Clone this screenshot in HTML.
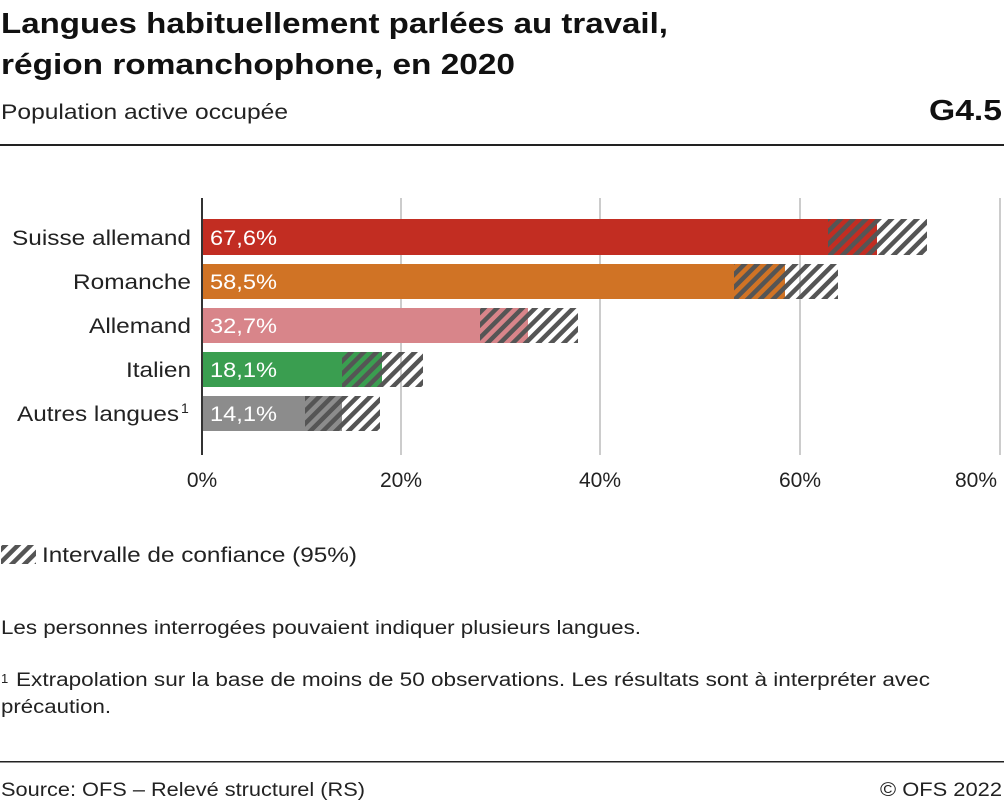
<!DOCTYPE html>
<html><head><meta charset="utf-8"><style>
body{margin:0;width:1004px;height:803px;background:#fff;font-family:"Liberation Sans",sans-serif;color:#222;overflow:hidden}
</style></head><body>
<svg width="1004" height="803" xmlns="http://www.w3.org/2000/svg" font-family="Liberation Sans, sans-serif">
<defs>
<pattern id="h" patternUnits="userSpaceOnUse" width="9" height="9" patternTransform="rotate(45)">
<rect x="0" y="0" width="4.5" height="9" fill="#555"/>
</pattern>
</defs>
<g lengthAdjust="spacingAndGlyphs">
<text x="1" y="33" font-size="29" font-weight="bold" fill="#111" textLength="667" lengthAdjust="spacingAndGlyphs">Langues habituellement parlées au travail,</text>
<text x="1" y="74" font-size="29" font-weight="bold" fill="#111" textLength="514" lengthAdjust="spacingAndGlyphs">région romanchophone, en 2020</text>
<text x="1" y="119" font-size="21" fill="#222" textLength="287" lengthAdjust="spacingAndGlyphs">Population active occupée</text>
<text x="929" y="120" font-size="29" font-weight="bold" fill="#111" textLength="73" lengthAdjust="spacingAndGlyphs">G4.5</text>
</g>
<rect x="0" y="144" width="1004" height="2" fill="#222"/>
<g stroke="#ccc" stroke-width="2">
<line x1="401" y1="198" x2="401" y2="455"/><line x1="600" y1="198" x2="600" y2="455"/>
<line x1="800" y1="198" x2="800" y2="455"/><line x1="1000" y1="198" x2="1000" y2="455"/>
</g>
<rect x="202" y="219" width="675" height="36" fill="#c22d22"/>
<rect x="828" y="219" width="99" height="36" fill="url(#h)"/>
<rect x="202" y="264" width="583" height="35" fill="#d07325"/>
<rect x="734" y="264" width="104" height="35" fill="url(#h)"/>
<rect x="202" y="308" width="326" height="35" fill="#d8858a"/>
<rect x="480" y="308" width="98" height="35" fill="url(#h)"/>
<rect x="202" y="352" width="180" height="35" fill="#3a9e50"/>
<rect x="342" y="352" width="81" height="35" fill="url(#h)"/>
<rect x="202" y="396" width="140" height="35" fill="#8c8c8c"/>
<rect x="305" y="396" width="75" height="35" fill="url(#h)"/>
<line x1="202" y1="198" x2="202" y2="455" stroke="#333" stroke-width="2"/>
<g font-size="21" fill="#fff">
<text x="210" y="245" textLength="67" lengthAdjust="spacingAndGlyphs">67,6%</text>
<text x="210" y="289" textLength="67" lengthAdjust="spacingAndGlyphs">58,5%</text>
<text x="210" y="333" textLength="67" lengthAdjust="spacingAndGlyphs">32,7%</text>
<text x="210" y="377" textLength="67" lengthAdjust="spacingAndGlyphs">18,1%</text>
<text x="210" y="421" textLength="67" lengthAdjust="spacingAndGlyphs">14,1%</text>
</g>
<g font-size="21" fill="#222">
<text x="12" y="245" textLength="179" lengthAdjust="spacingAndGlyphs">Suisse allemand</text>
<text x="73" y="289" textLength="118" lengthAdjust="spacingAndGlyphs">Romanche</text>
<text x="89" y="333" textLength="102" lengthAdjust="spacingAndGlyphs">Allemand</text>
<text x="126" y="377" textLength="65" lengthAdjust="spacingAndGlyphs">Italien</text>
<text x="17" y="421" textLength="162" lengthAdjust="spacingAndGlyphs">Autres langues</text>
</g>
<text x="181" y="413" font-size="14" fill="#222">1</text>
<g font-size="21" fill="#222" text-anchor="middle">
<text x="202" y="487">0%</text><text x="401" y="487">20%</text><text x="600" y="487">40%</text><text x="800" y="487">60%</text><text x="976" y="487">80%</text>
</g>
<rect x="1" y="545" width="35" height="19" fill="url(#h)"/>
<text x="42" y="562" font-size="21" fill="#222" textLength="315" lengthAdjust="spacingAndGlyphs">Intervalle de confiance (95%)</text>
<text x="1" y="634" font-size="19" fill="#222" textLength="640" lengthAdjust="spacingAndGlyphs">Les personnes interrogées pouvaient indiquer plusieurs langues.</text>
<text x="1" y="683" font-size="13" fill="#222">1</text>
<text x="16" y="686" font-size="19" fill="#222" textLength="914" lengthAdjust="spacingAndGlyphs">Extrapolation sur la base de moins de 50 observations. Les résultats sont à interpréter avec</text>
<text x="1" y="713" font-size="19" fill="#222" textLength="110" lengthAdjust="spacingAndGlyphs">précaution.</text>
<rect x="0" y="761" width="1004" height="1.5" fill="#222"/>
<text x="1" y="796" font-size="19" fill="#222" textLength="364" lengthAdjust="spacingAndGlyphs">Source: OFS – Relevé structurel (RS)</text>
<text x="880" y="796" font-size="19" fill="#222" textLength="122" lengthAdjust="spacingAndGlyphs">© OFS 2022</text>
</svg>
</body></html>
